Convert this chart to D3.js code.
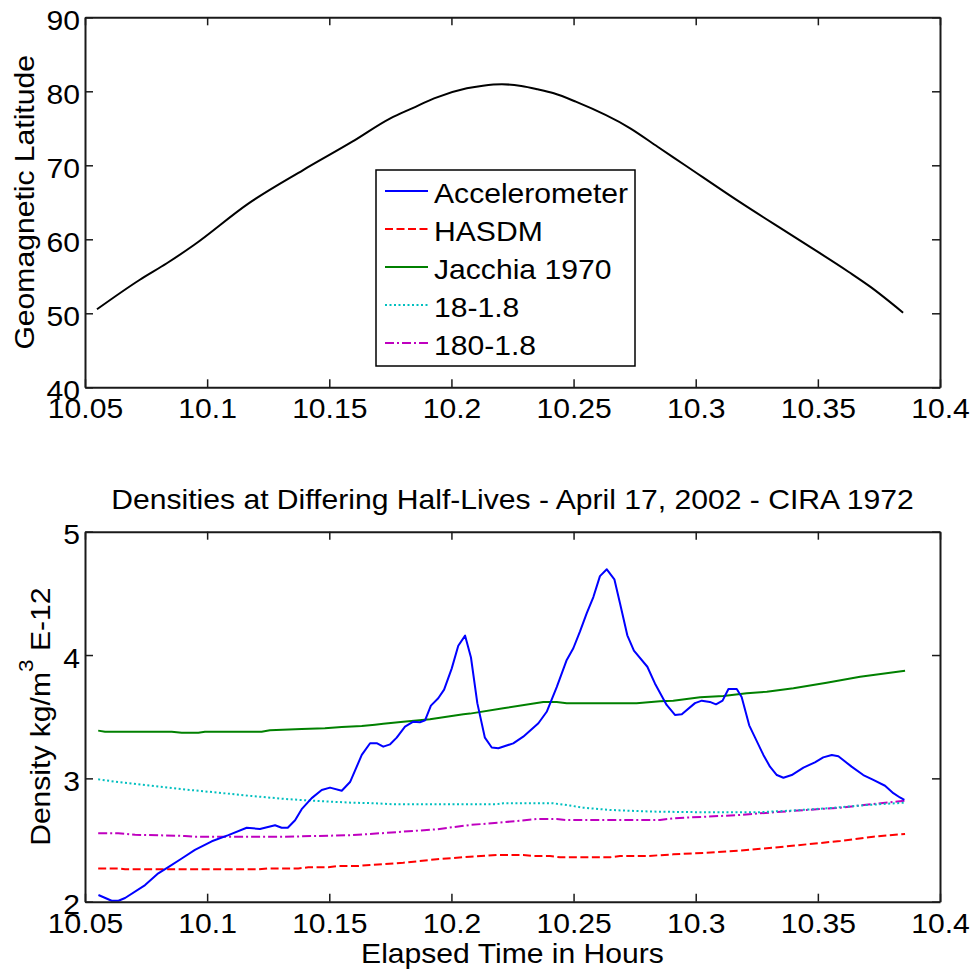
<!DOCTYPE html>
<html>
<head>
<meta charset="utf-8">
<script src="https://cdn.jsdelivr.net/npm/d3@7"></script>
<style>
  body { margin: 0; background: #fff; }
  svg { display: block; font-family: "Liberation Sans", Arial, sans-serif; }
</style>
</head>
<body>
<svg id="chart" width="974" height="972"></svg>
<script>
// ---- data ----
const xTicks = [10.05, 10.1, 10.15, 10.2, 10.25, 10.3, 10.35, 10.4];
const latTicks = [40, 50, 60, 70, 80, 90];
const densTicks = [2, 3, 4, 5];

const latTime = [10.0549, 10.0723, 10.0835, 10.0946, 10.117, 10.1393, 10.1594, 10.175, 10.1839, 10.1929,
  10.2063, 10.2129, 10.2207, 10.2286, 10.2353, 10.2419, 10.2509, 10.2732, 10.2844, 10.2955,
  10.3178, 10.3402, 10.3625, 10.3714, 10.3849];
const latValue = [50.54, 54.5, 56.76, 59.23, 64.86, 69.36, 73.19, 76.35, 77.7, 79.05,
  80.4, 80.76, 80.95, 80.72, 80.27, 79.73, 78.6, 75.0, 72.51, 70.04,
  65.08, 60.35, 55.62, 53.6, 50.08];

const accelTime = [10.0555, 10.0609, 10.0637, 10.0664, 10.0746, 10.080, 10.0841, 10.0896, 10.095, 10.1019,
  10.1087, 10.1162, 10.1216, 10.1278, 10.1305, 10.133, 10.136, 10.1387, 10.1428, 10.1469,
  10.1503, 10.1551, 10.1585, 10.1633, 10.1667, 10.1694, 10.1721, 10.1749, 10.1776, 10.181,
  10.1844, 10.1871, 10.1892, 10.1916, 10.1946, 10.197, 10.2001, 10.2028, 10.2056, 10.208,
  10.2106, 10.2137, 10.2165, 10.2192, 10.2253, 10.2294, 10.2356, 10.239, 10.2431, 10.2472,
  10.2499, 10.2526, 10.2554, 10.2581, 10.2608, 10.2636, 10.2667, 10.269, 10.272, 10.2747,
  10.2802, 10.2833, 10.2881, 10.2915, 10.2943, 10.2997, 10.3025, 10.3058, 10.3083, 10.311,
  10.3134, 10.3168, 10.3188, 10.3219, 10.3277, 10.3304, 10.3332, 10.3359, 10.3393, 10.3441,
  10.3488, 10.3522, 10.3557, 10.3584, 10.3638, 10.3686, 10.3727, 10.3775, 10.3809, 10.3836,
  10.3854];
const accelValue = [2.054, 2.008, 2.008, 2.03, 2.135, 2.23, 2.28, 2.35, 2.42, 2.49,
  2.54, 2.60, 2.59, 2.62, 2.60, 2.60, 2.66, 2.75, 2.84, 2.905,
  2.925, 2.90, 2.97, 3.19, 3.285, 3.285, 3.257, 3.276, 3.33, 3.42,
  3.46, 3.455, 3.47, 3.59, 3.65, 3.72, 3.89, 4.075, 4.157, 3.98,
  3.61, 3.33, 3.25, 3.244, 3.284, 3.338, 3.447, 3.54, 3.74, 3.96,
  4.055, 4.19, 4.34, 4.47, 4.64, 4.695, 4.614, 4.42, 4.16, 4.035,
  3.905, 3.77, 3.595, 3.514, 3.52, 3.61, 3.63, 3.62, 3.60, 3.63,
  3.725, 3.725, 3.66, 3.43, 3.19, 3.095, 3.027, 3.005, 3.027, 3.087,
  3.13, 3.17, 3.19, 3.18, 3.095, 3.027, 2.987, 2.94, 2.88, 2.845,
  2.825];

const hasdmTime = [10.0554, 10.0636, 10.0664, 10.1209, 10.125, 10.1373, 10.1414, 10.1496, 10.1537, 10.1619,
  10.1667, 10.1803, 10.194, 10.2076, 10.2185, 10.2294, 10.2335, 10.2404, 10.2444, 10.2649,
  10.269, 10.2799, 10.2908, 10.3045, 10.3181, 10.3318, 10.3454, 10.3591, 10.3727, 10.3857];
const hasdmValue = [2.27, 2.27, 2.263, 2.263, 2.27, 2.27, 2.279, 2.279, 2.29, 2.29,
  2.298, 2.316, 2.344, 2.365, 2.379, 2.379, 2.37, 2.37, 2.36, 2.36,
  2.37, 2.37, 2.384, 2.397, 2.414, 2.438, 2.465, 2.492, 2.527, 2.549];

const jacchiaTime = [10.0554, 10.0582, 10.0855, 10.0896, 10.0964, 10.0991, 10.1223, 10.1257, 10.1387, 10.1482,
  10.1551, 10.1633, 10.1687, 10.1721, 10.1803, 10.1912, 10.2049, 10.2076, 10.2212, 10.2376,
  10.2431, 10.2472, 10.2758, 10.2854, 10.2908, 10.3018, 10.3113, 10.3209, 10.3291, 10.34,
  10.3536, 10.3673, 10.3857];
const jacchiaValue = [3.387, 3.378, 3.378, 3.37, 3.37, 3.378, 3.378, 3.39, 3.40, 3.406,
  3.416, 3.424, 3.435, 3.443, 3.46, 3.479, 3.52, 3.525, 3.568, 3.62,
  3.62, 3.61, 3.61, 3.625, 3.63, 3.657, 3.668, 3.69, 3.703, 3.73,
  3.776, 3.824, 3.873];

const hl18Time = [10.0554, 10.0636, 10.0773, 10.0909, 10.1046, 10.1182, 10.1319, 10.1455, 10.1592, 10.1687,
  10.1762, 10.2185, 10.2212, 10.2417, 10.2485, 10.254, 10.2649, 10.2758, 10.284, 10.3045,
  10.325, 10.3386, 10.3536, 10.37, 10.3857];
const hl18Value = [2.992, 2.97, 2.94, 2.91, 2.884, 2.857, 2.833, 2.816, 2.803, 2.798,
  2.79, 2.79, 2.798, 2.798, 2.78, 2.762, 2.744, 2.735, 2.73, 2.725,
  2.725, 2.738, 2.757, 2.784, 2.803];

const hl180Time = [10.0554, 10.0636, 10.0705, 10.0909, 10.095, 10.1319, 10.1455, 10.1592, 10.1667, 10.1803,
  10.194, 10.2076, 10.2212, 10.2349, 10.2431, 10.2472, 10.2854, 10.2908, 10.3045, 10.3181,
  10.3318, 10.3454, 10.3591, 10.3727, 10.3857];
const hl180Value = [2.555, 2.555, 2.543, 2.533, 2.527, 2.527, 2.533, 2.54, 2.549, 2.568,
  2.587, 2.622, 2.644, 2.67, 2.67, 2.662, 2.662, 2.676, 2.69, 2.703,
  2.725, 2.744, 2.762, 2.792, 2.819];

const seriesNames = ["Accelerometer", "HASDM", "Jacchia 1970", "18-1.8", "180-1.8"];

// ---- layout ----
const svg = d3.select("#chart");
const left = 85, right = 940;
const fontSize = 28;
const stretch = 1.075; // reference glyphs are a little wider than Arial

const series = [
  { name: seriesNames[0], t: accelTime, v: accelValue, color: "#0000ff", dash: null },
  { name: seriesNames[1], t: hasdmTime, v: hasdmValue, color: "#ff0000", dash: "8,3.5" },
  { name: seriesNames[2], t: jacchiaTime, v: jacchiaValue, color: "#008000", dash: null },
  { name: seriesNames[3], t: hl18Time, v: hl18Value, color: "#00bfbf", dash: "2,2.5" },
  { name: seriesNames[4], t: hl180Time, v: hl180Value, color: "#bf00bf", dash: "9,3,2,3" }
];

function drawAxes(g, xScale, yScale, yTicks, top, bottom) {
  const xb = g.append("g").attr("transform", "translate(0," + bottom + ")")
    .call(d3.axisBottom(xScale).tickValues(xTicks).tickFormat(d => String(d))
      .tickSize(-8).tickSizeOuter(0).tickPadding(11));
  const xt = g.append("g").attr("transform", "translate(0," + top + ")")
    .call(d3.axisTop(xScale).tickValues(xTicks).tickFormat("").tickSize(-8).tickSizeOuter(0));
  const yl = g.append("g").attr("transform", "translate(" + left + ",0)")
    .call(d3.axisLeft(yScale).tickValues(yTicks).tickFormat(d3.format("d"))
      .tickSize(-8).tickSizeOuter(0).tickPadding(5));
  const yr = g.append("g").attr("transform", "translate(" + right + ",0)")
    .call(d3.axisRight(yScale).tickValues(yTicks).tickFormat("").tickSize(-8).tickSizeOuter(0));

  [xb, xt, yl, yr].forEach(a => {
    a.select(".domain").attr("stroke", "#1a1a1a").attr("stroke-width", 2);
    a.selectAll(".tick line").attr("stroke", "#1a1a1a").attr("stroke-width", 1.5);
    a.selectAll("text").attr("font-size", fontSize).attr("fill", "#000")
      .attr("font-family", "Liberation Sans, Arial, sans-serif")
      .classed("wide", true);
  });
  yl.selectAll("text").attr("dy", "0.43em");
}

// ---- top: geomagnetic latitude ----
const topY0 = 17.3, topY1 = 387.3;
const x1 = d3.scaleLinear().domain([10.05, 10.4]).range([left, right]);
const y1 = d3.scaleLinear().domain([40, 90]).range([topY1, topY0]);
const g1 = svg.append("g");

g1.append("path")
  .datum(d3.zip(latTime, latValue))
  .attr("fill", "none")
  .attr("stroke", "#000")
  .attr("stroke-width", 2)
  .attr("stroke-linejoin", "round")
  .attr("d", d3.line().curve(d3.curveMonotoneX).x(d => x1(d[0])).y(d => y1(d[1])));

drawAxes(g1, x1, y1, latTicks, topY0, topY1);

g1.append("text")
  .attr("class", "wide")
  .attr("transform", "translate(34," + ((topY0 + topY1) / 2) + ") rotate(-90)")
  .attr("text-anchor", "middle")
  .attr("font-size", fontSize)
  .text("Geomagnetic Latitude");

// legend
const leg = g1.append("g").attr("transform", "translate(376,170)");
leg.append("rect")
  .attr("width", 259).attr("height", 196)
  .attr("fill", "#fff").attr("stroke", "#000").attr("stroke-width", 1.5);
series.forEach((s, i) => {
  const cy = 21 + i * 38;
  leg.append("line")
    .attr("x1", 9).attr("x2", 52).attr("y1", cy).attr("y2", cy)
    .attr("stroke", s.color).attr("stroke-width", 2)
    .attr("stroke-dasharray", s.dash);
  leg.append("text")
    .attr("class", "wide")
    .attr("x", 58).attr("y", cy + 12)
    .attr("font-size", fontSize)
    .text(s.name);
});

// ---- bottom: densities ----
const botY0 = 531.7, botY1 = 901.7;
const x2 = d3.scaleLinear().domain([10.05, 10.4]).range([left, right]);
const y2 = d3.scaleLinear().domain([2, 5]).range([botY1, botY0]);
const g2 = svg.append("g");

const densLine = d3.line().x(d => x2(d[0])).y(d => y2(d[1]));

// draw in reverse so the accelerometer sits on top
series.slice().reverse().forEach(s => {
  g2.append("path")
    .datum(d3.zip(s.t, s.v))
    .attr("fill", "none")
    .attr("stroke", s.color)
    .attr("stroke-width", 2)
    .attr("stroke-linejoin", "round")
    .attr("stroke-dasharray", s.dash)
    .attr("d", densLine);
});

drawAxes(g2, x2, y2, densTicks, botY0, botY1);

g2.append("text")
  .attr("class", "wide")
  .attr("x", (left + right) / 2).attr("y", 509)
  .attr("text-anchor", "middle")
  .attr("font-size", fontSize)
  .text("Densities at Differing Half-Lives - April 17, 2002 - CIRA 1972");

g2.append("text")
  .attr("class", "wide")
  .attr("x", (left + right) / 2).attr("y", 963)
  .attr("text-anchor", "middle")
  .attr("font-size", fontSize)
  .text("Elapsed Time in Hours");

const yLab = g2.append("text")
  .attr("transform", "translate(50," + ((botY0 + botY1) / 2) + ") rotate(-90) scale(" + stretch + ",1)")
  .attr("text-anchor", "middle")
  .attr("font-size", fontSize);
yLab.append("tspan").text("Density kg/m");
yLab.append("tspan").attr("font-size", 21).attr("dy", -17).text("3");
yLab.append("tspan").attr("dy", 17).text(" E-12");

// widen plain texts to match the reference glyph width
svg.selectAll("text.wide").each(function() {
  const w = this.getComputedTextLength();
  d3.select(this).attr("textLength", w * stretch).attr("lengthAdjust", "spacingAndGlyphs");
});
</script>
</body>
</html>
